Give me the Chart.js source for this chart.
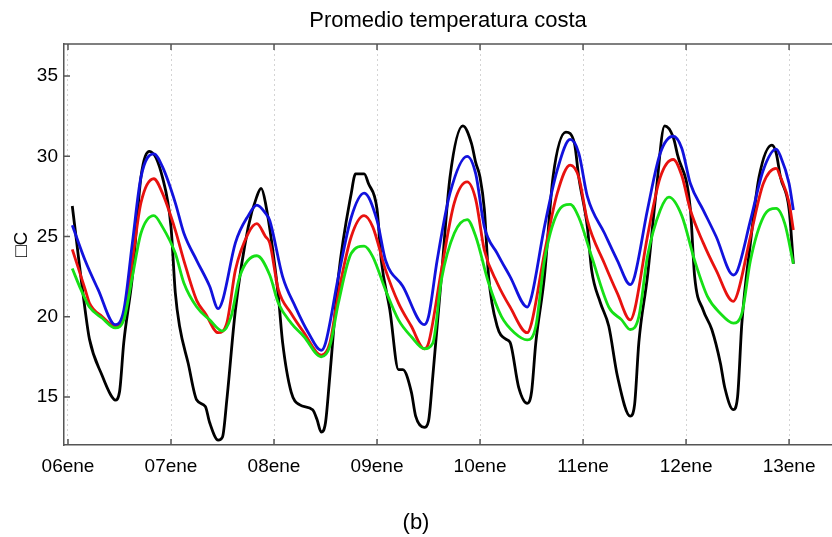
<!DOCTYPE html>
<html>
<head>
<meta charset="utf-8">
<title>Promedio temperatura costa</title>
<script src="https://cdn.jsdelivr.net/npm/chart.js@4.4.1/dist/chart.umd.min.js"></script>
<style>
  html, body { margin: 0; padding: 0; background: #fff; }
  #wrap { width: 832px; height: 537px; }
</style>
</head>
<body>
<div id="wrap"><canvas id="myChart" width="832" height="537"></canvas></div>
<script>
// hours counted from 06ene 00:00
var xTicks = [0, 24, 48, 72, 96, 120, 144, 168];
var xLabels = ['06ene', '07ene', '08ene', '09ene', '10ene', '11ene', '12ene', '13ene'];
var yTicks = [15, 20, 25, 30, 35];

var blackHours = [1,4,5,8,10,11,12,13,15,17,19,22,24,25,26,28,30,32,33,35,36,37,39,42,44,45,46,49,50,52,54,57,58,59,60,61,63,66,67,69,70,72,73,75,77,78,80,81,83,84,85,87,89,92,94,95,96,97,98,100,102,103,105,107,108,109,111,113,116,118,119,121,122,124,126,128,131,132,133,135,137,139,141,142,145,146,148,150,152,153,155,156,157,159,161,164,165,166,168,169];
var blackTemp = [26.9,20.4,18.6,16.3,15.1,14.8,15.3,18.4,22.5,28.7,30.3,28.7,25.6,21.5,19.4,17.1,14.8,14.4,13.4,12.3,12.5,14.8,20.4,25.6,27.5,28.0,27.1,21.3,18.4,15.3,14.5,14.2,13.6,12.8,13.4,16.3,22.5,27.7,28.9,28.9,28.3,26.7,23.5,20.4,16.7,16.7,15.3,13.8,13.1,13.5,16.3,22.5,28.7,31.9,30.8,29.6,28.7,26.7,22.5,19.4,18.6,18.4,15.6,14.6,15.3,18.4,22.5,28.7,31.5,30.8,28.7,25.6,22.9,20.9,19.4,16.3,13.8,14.5,18.4,22.5,27.7,31.9,31.2,30.1,26.7,22.5,20.4,19.2,17.1,15.6,14.2,15.0,19.6,24.6,28.7,30.7,30.2,28.7,26.7,23.3];

var blueHours = [1,4,7,11,13,15,17,20,22,25,27,30,33,35,36,39,42,44,46,47,50,53,56,59,60,63,66,69,72,74,78,83,84,86,89,93,95,97,100,103,107,108,111,114,117,119,121,125,128,131,132,135,138,141,143,145,148,151,155,156,159,162,165,166,168,169];
var blueTemp = [25.7,23.5,21.7,19.5,20.4,24.6,28.7,30.15,29.35,27.1,25.2,23.5,21.9,20.5,21.0,24.6,26.3,26.95,26.45,26.0,22.5,20.6,19.0,17.9,18.35,22.5,26.2,27.7,26.0,23.5,21.9,19.5,20.0,23.5,27.7,30.0,28.9,25.6,23.95,22.5,20.6,21.25,25.6,29.15,31.05,30.2,27.5,25.2,23.5,22.0,22.5,26.65,30.2,31.25,30.5,28.3,26.65,25.0,22.6,22.9,26.0,29.15,30.45,30.0,28.3,26.65];

var redHours = [1,4,5,8,11,13,15,17,20,22,25,27,30,32,35,37,39,42,44,46,47,49,52,55,59,61,63,66,69,71,74,77,80,83,84,87,90,93,95,97,100,103,107,108,111,114,117,119,121,125,128,131,132,135,138,141,143,145,148,151,155,156,159,162,165,166,168,169];
var redTemp = [24.2,21.7,20.85,20.0,19.4,20.0,23.5,27.1,28.6,27.7,25.4,23.5,21.0,20.2,19.0,19.6,22.9,25.2,25.8,25.0,24.6,21.7,20.2,19.0,17.6,18.35,21.45,25.0,26.3,25.6,22.9,20.85,19.4,18.0,18.35,22.9,27.1,28.4,27.3,24.15,22.1,20.6,19.0,19.6,23.95,27.7,29.45,28.7,26.0,23.3,21.45,19.8,20.4,25.0,28.7,29.8,28.8,26.65,24.6,22.9,20.95,21.45,25.0,28.3,29.25,28.7,27.1,25.4];

var greenHours = [1,3,5,8,11,13,15,17,20,22,25,27,30,33,36,38,40,44,47,49,52,55,59,61,63,66,69,71,74,77,80,83,85,87,90,93,95,98,101,104,107,109,111,114,117,119,122,126,129,131,133,135,138,140,143,146,149,152,155,157,159,162,165,167,169];
var greenTemp = [23.0,21.7,20.6,19.9,19.3,19.8,22.5,25.2,26.3,25.6,23.95,22.1,20.6,19.8,19.1,20.0,22.5,23.8,22.6,20.85,19.6,18.75,17.5,18.15,20.85,23.95,24.4,23.75,21.65,19.8,18.75,18.0,18.35,22.3,25.2,26.05,25.0,22.1,20.0,19.0,18.55,19.4,23.5,26.45,27.0,26.2,23.75,20.6,19.8,19.2,20.0,23.75,26.65,27.45,26.3,23.5,21.25,20.2,19.6,20.2,23.5,26.2,26.75,25.8,23.3];

function pairs(hours, temps) {
  return hours.map(function(h, i) { return { x: h, y: temps[i] }; });
}

function serie(data, color, order) {
  return {
    data: data,
    borderColor: color,
    borderWidth: 2.8,
    pointRadius: 0,
    fill: false,
    cubicInterpolationMode: 'monotone',
    order: order
  };
}

var font = '"Liberation Sans", Arial, Helvetica, sans-serif';

// frame on top and tick marks pointing inside
var frame = {
  id: 'frame',
  afterDraw: function(chart) {
    var ctx = chart.ctx, a = chart.chartArea, x = chart.scales.x, y = chart.scales.y;
    ctx.save();
    ctx.strokeStyle = '#555';
    ctx.lineWidth = 1.5;
    ctx.beginPath();
    ctx.moveTo(a.left, a.top);
    ctx.lineTo(a.right, a.top);
    for (var i = 0; i < xTicks.length; i++) {
      var px = x.getPixelForValue(xTicks[i]);
      ctx.moveTo(px, a.top); ctx.lineTo(px, a.top + 6);
      ctx.moveTo(px, a.bottom); ctx.lineTo(px, a.bottom - 6);
    }
    for (var j = 0; j < yTicks.length; j++) {
      var py = y.getPixelForValue(yTicks[j]);
      ctx.moveTo(a.left, py); ctx.lineTo(a.left + 6, py);
    }
    ctx.stroke();
    ctx.restore();
  }
};

new Chart(document.getElementById('myChart'), {
  type: 'line',
  data: {
    datasets: [
      serie(pairs(blackHours, blackTemp), '#000000', 3),
      serie(pairs(redHours, redTemp), '#e8120f', 2),
      serie(pairs(blueHours, blueTemp), '#1212dd', 1),
      serie(pairs(greenHours, greenTemp), '#16e016', 0)
    ]
  },
  options: {
    responsive: false,
    animation: false,
    devicePixelRatio: 1,
    layout: { padding: 0 },
    plugins: {
      legend: { display: false },
      tooltip: { enabled: false },
      title: {
        display: true,
        text: 'Promedio temperatura costa',
        fullSize: false,
        color: '#000',
        font: { family: font, size: 22, weight: 'normal', lineHeight: 1.2 },
        padding: { top: 8, bottom: 9.6 }
      },
      subtitle: {
        display: true,
        position: 'bottom',
        text: '(b)',
        color: '#000',
        font: { family: font, size: 22, weight: 'normal', lineHeight: 1.2 },
        padding: { top: 0, bottom: 1 }
      }
    },
    scales: {
      x: {
        type: 'linear',
        min: -0.93,
        max: 178,
        afterBuildTicks: function(s) { s.ticks = xTicks.map(function(v) { return { value: v }; }); },
        afterFit: function(s) { s.height = 64.6; },
        ticks: {
          color: '#000',
          padding: 10,
          maxRotation: 0,
          autoSkip: false,
          font: { family: font, size: 19 },
          callback: function(v) { return xLabels[xTicks.indexOf(v)]; }
        },
        grid: { color: '#d4d4d4', lineWidth: 1, drawTicks: false },
        border: { display: true, color: '#555', width: 1.5, dash: [2, 3] }
      },
      y: {
        min: 12,
        max: 37,
        afterBuildTicks: function(s) { s.ticks = yTicks.map(function(v) { return { value: v }; }); },
        afterFit: function(s) { s.width = 64; },
        ticks: {
          color: '#000',
          padding: 6,
          font: { family: font, size: 19 }
        },
        grid: { display: false, drawTicks: false },
        border: { display: true, color: '#555', width: 1.5 },
        title: {
          display: true,
          text: '\u25A1C',
          color: '#000',
          font: { family: font, size: 19 },
          padding: { top: 10, bottom: 0 }
        }
      }
    }
  },
  plugins: [frame]
});
</script>
</body>
</html>
